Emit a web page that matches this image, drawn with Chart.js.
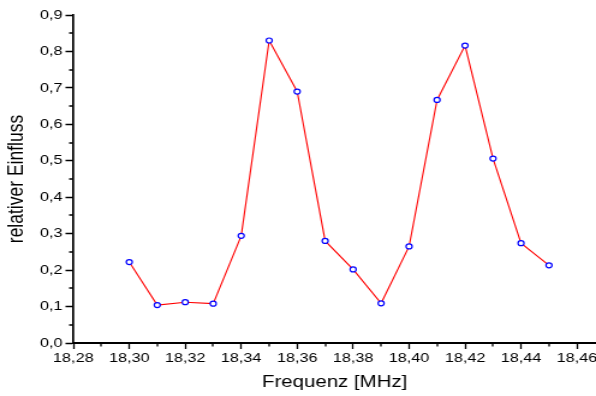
<!DOCTYPE html>
<html>
<head>
<meta charset="utf-8">
<script src="https://cdn.jsdelivr.net/npm/chart.js@4.4.0/dist/chart.umd.min.js"></script>
<style>
  html, body { margin: 0; padding: 0; background: #fff; }
  /* the source picture is slightly stretched sideways, so draw narrower and widen with CSS */
  #chart { display: block; width: 596px; height: 396px; }
</style>
</head>
<body>
<canvas id="chart" width="496" height="396" style="width:596px;height:396px"></canvas>
<script>
// data
const freqs = [18.30, 18.31, 18.32, 18.33, 18.34, 18.35, 18.36, 18.37, 18.38, 18.39, 18.40, 18.41, 18.42, 18.43, 18.44, 18.45];
const influence = [0.222, 0.104, 0.112, 0.108, 0.294, 0.830, 0.690, 0.280, 0.202, 0.109, 0.265, 0.667, 0.816, 0.506, 0.274, 0.213];
const xTicks = [18.28, 18.30, 18.32, 18.34, 18.36, 18.38, 18.40, 18.42, 18.44, 18.46];
const yTicks = [0.0, 0.1, 0.2, 0.3, 0.4, 0.5, 0.6, 0.7, 0.8, 0.9];

const comma = (v, d) => v.toFixed(d).replace('.', ',');
const font = 'Liberation Sans, Arial, sans-serif';

// short minor ticks halfway between the labelled ones
const minorTicks = {
  id: 'minorTicks',
  afterDraw(c) {
    const ctx = c.ctx;
    const xs = c.scales.x, ys = c.scales.y;
    ctx.save();
    ctx.strokeStyle = '#000';
    ctx.lineWidth = 1.3;
    ctx.beginPath();
    for (let i = 0; i < xTicks.length - 1; i++) {
      const px = Math.round(xs.getPixelForValue((xTicks[i] + xTicks[i + 1]) / 2));
      ctx.moveTo(px, ys.bottom);
      ctx.lineTo(px, ys.bottom + 3.5);
    }
    for (let i = 0; i < yTicks.length - 1; i++) {
      const py = Math.round(ys.getPixelForValue((yTicks[i] + yTicks[i + 1]) / 2));
      ctx.moveTo(xs.left, py);
      ctx.lineTo(xs.left - 3.5, py);
    }
    ctx.stroke();
    ctx.restore();
  }
};

new Chart(document.getElementById('chart'), {
  type: 'line',
  data: {
    datasets: [{
      data: freqs.map((f, i) => ({ x: f, y: influence[i] })),
      borderColor: '#ff0000',
      borderWidth: 1.1,
      pointRadius: 2.5,
      pointBorderWidth: 1.2,
      pointBorderColor: '#0000ff',
      pointBackgroundColor: '#ffffff',
      tension: 0,
    }],
  },
  options: {
    responsive: false,
    devicePixelRatio: 1,
    animation: false,
    layout: { autoPadding: false, padding: { top: 15, right: 0, left: 0, bottom: 0 } },
    plugins: { legend: { display: false }, tooltip: { enabled: false } },
    scales: {
      x: {
        type: 'linear',
        min: 18.28,
        max: 18.4668,
        afterBuildTicks: (s) => { s.ticks = xTicks.map(v => ({ value: v })); },
        afterFit: (s) => { s.height = 53; s.paddingLeft = 0; s.paddingRight = 0; },
        border: { color: '#000', width: 2 },
        grid: { drawOnChartArea: false, tickLength: 6, tickColor: '#000', tickWidth: 1.3 },
        ticks: {
          color: '#000',
          font: { family: font, size: 13.5 },
          padding: 1,
          maxRotation: 0,
          autoSkip: false,
          callback: (v) => comma(v, 2),
        },
        title: {
          display: true,
          text: 'Frequenz [MHz]',
          color: '#000',
          font: { family: font, size: 17 },
          padding: { top: 4, bottom: 3 },
        },
      },
      y: {
        min: 0,
        max: 0.9,
        afterBuildTicks: (s) => { s.ticks = yTicks.map(v => ({ value: v })); },
        afterFit: (s) => { s.width = 61; },
        border: { color: '#000', width: 1.7 },
        grid: { drawOnChartArea: false, tickLength: 6.5, tickColor: '#000', tickWidth: 1.5 },
        ticks: {
          color: '#000',
          font: { family: font, size: 13.5 },
          padding: 2.5,
          callback: (v) => comma(v, 1),
        },
        title: {
          display: true,
          text: 'relativer Einfluss',
          color: '#000',
          font: { family: font, size: 17.5 },
          padding: { top: 4, bottom: 2 },
        },
      },
    },
  },
  plugins: [minorTicks],
});
</script>
</body>
</html>
